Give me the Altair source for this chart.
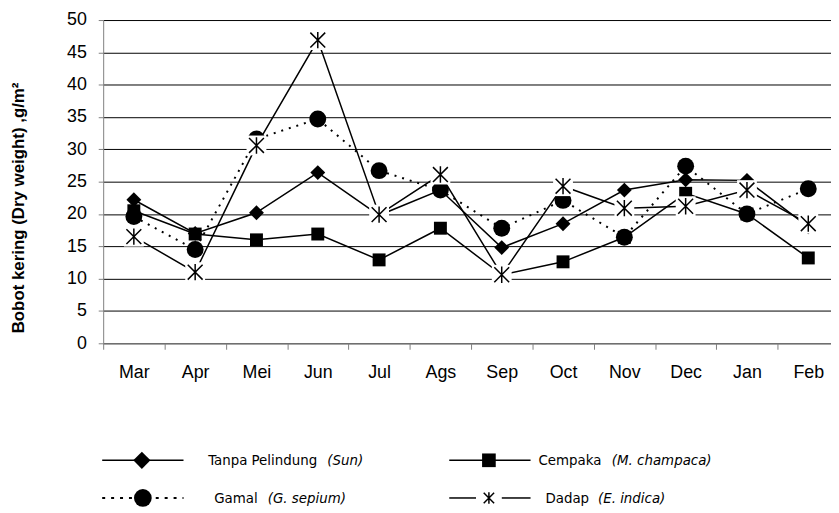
import altair as alt
import pandas as pd

months = ["Mar", "Apr", "Mei", "Jun", "Jul", "Ags", "Sep", "Oct", "Nov", "Dec", "Jan", "Feb"]
series_names = ["Tanpa Pelindung", "Cempaka", "Gamal", "Dadap"]
tanpa = [22.2, 17.0, 20.2, 26.4, 19.8, 23.7, 14.8, 18.5, 23.7, 25.3, 25.2, 18.0]
cempaka = [20.5, 16.9, 16.0, 16.9, 12.9, 17.8, 10.6, 12.6, 16.4, 23.2, 20.0, 13.2]
gamal = [19.6, 14.5, 31.6, 34.7, 26.7, 23.7, 17.8, 22.1, 16.4, 27.4, 20.0, 23.9]
dadap = [16.5, 11.0, 30.6, 46.9, 19.9, 26.1, 10.6, 24.3, 20.9, 21.2, 23.7, 18.5]
y_ticks = [0, 5, 10, 15, 20, 25, 30, 35, 40, 45, 50]
y_title = "Bobot kering (Dry weight) ,g/m²"
legend_main = ["Tanpa Pelindung", "Cempaka", "Gamal", "Dadap"]
legend_ital = ["(Sun)", "(M. champaca)", "(G. sepium)", "(E. indica)"]

rows = []
for name, vals in zip(series_names, [tanpa, cempaka, gamal, dadap]):
    for m, v in zip(months, vals):
        rows.append({"month": m, "series": name, "value": v})
df = pd.DataFrame(rows)

W, H = 734, 326
FONT = "Liberation Sans, Arial, sans-serif"
NARROW = "DejaVu Sans Condensed, Liberation Sans Narrow, sans-serif"
STAR = "M-1,-1L1,1M-1,1L1,-1M0,-1.1L0,1.1"

xenc = alt.X(
    "month:N",
    scale=alt.Scale(type="band", domain=months, range=[0, 742], paddingInner=0, paddingOuter=0),
    axis=alt.Axis(title=None, labelAngle=0, tickBand="extent", tickSize=6, labelPadding=15,
                  labelFontSize=18, labelFont=FONT, labelColor="black",
                  domainColor="#808080", tickColor="#808080", grid=False),
)
yenc = alt.Y(
    "value:Q",
    scale=alt.Scale(domain=[0, 50], nice=False, zero=True),
    axis=alt.Axis(values=y_ticks, title=y_title, titleFont=FONT, titleFontSize=17,
                  titleFontWeight="bold", titleColor="black", titleAngle=270,
                  titleX=-85, titleY=189, titleAlign="center", titleBaseline="middle",
                  labelFontSize=18, labelFont=FONT, labelColor="black", labelPadding=12,
                  tickSize=5, tickColor="#808080", domainColor="#808080",
                  gridColor="black", gridWidth=1, grid=True),
)

base = alt.Chart(df)


def sub(name):
    return base.transform_filter(alt.datum.series == name)


layers = []
# Tanpa Pelindung
layers.append(sub("Tanpa Pelindung").mark_line(color="black", strokeWidth=1.5).encode(x=xenc, y=yenc))
layers.append(sub("Tanpa Pelindung").mark_point(shape="diamond", filled=True, color="black", size=225, opacity=1).encode(x=xenc, y=yenc))
# Cempaka
layers.append(sub("Cempaka").mark_line(color="black", strokeWidth=1.5).encode(x=xenc, y=yenc))
layers.append(sub("Cempaka").mark_point(shape="square", filled=True, color="black", size=170, opacity=1).encode(x=xenc, y=yenc))
# Gamal
layers.append(sub("Gamal").mark_line(color="black", strokeWidth=2, strokeDash=[2, 6]).encode(x=xenc, y=yenc))
layers.append(sub("Gamal").mark_point(shape="circle", filled=True, color="black", size=290, opacity=1).encode(x=xenc, y=yenc))
# Dadap
layers.append(sub("Dadap").mark_line(color="black", strokeWidth=1.5).encode(x=xenc, y=yenc))
layers.append(sub("Dadap").mark_point(shape="square", filled=True, color="white", size=400, opacity=1).encode(x=xenc, y=yenc))
layers.append(sub("Dadap").mark_point(shape=STAR, filled=False, stroke="black", strokeWidth=1.5, size=225, opacity=1).encode(x=xenc, y=yenc))

# manual legend
one = pd.DataFrame({"k": [0]})


def rule(x1, x2, y, dash=None, w=1.5):
    kw = dict(color="black", strokeWidth=w)
    if dash:
        kw["strokeDash"] = dash
    return alt.Chart(one).mark_rule(**kw).encode(x=alt.value(x1), x2=alt.value(x2), y=alt.value(y))


def sym(x, y, shape, size, filled=True):
    if filled:
        return alt.Chart(one).mark_point(shape=shape, filled=True, color="black", size=size, opacity=1).encode(x=alt.value(x), y=alt.value(y))
    return alt.Chart(one).mark_point(shape=shape, filled=False, stroke="black", strokeWidth=1.5, size=size, opacity=1).encode(x=alt.value(x), y=alt.value(y))


def txt(x, y, t, italic=False):
    return alt.Chart(pd.DataFrame({"t": [t]})).mark_text(
        align="left", baseline="middle", fontSize=15, font=NARROW, color="black",
        fontStyle="italic" if italic else "normal",
    ).encode(x=alt.value(x), y=alt.value(y), text="t:N")


r1, r2 = 444, 482
layers += [
    rule(-1, 81, r1), sym(39, r1, "diamond", 300),
    txt(106, r1, legend_main[0]), txt(226, r1, legend_ital[0], True),
    rule(349, 431, r1), sym(389, r1, "square", 190),
    txt(439, r1, legend_main[1]), txt(513, r1, legend_ital[1], True),
    rule(-1, 81, r2, dash=[3, 6], w=2), sym(40, r2, "circle", 320),
    txt(112, r2, legend_main[2]), txt(166, r2, legend_ital[2], True),
    rule(349, 376, r2), rule(402, 431, r2), sym(389, r2, STAR, 110, filled=False),
    txt(446, r2, legend_main[3]), txt(499, r2, legend_ital[3], True),
]

chart = alt.layer(*layers).properties(
    width=W, height=H,
    autosize=alt.AutoSizeParams(type="none"),
    padding={"left": 96, "top": 10, "right": 0, "bottom": 168},
).configure_view(stroke=None)

chart.save("out.html", embed_options={"renderer": "svg", "actions": False})
